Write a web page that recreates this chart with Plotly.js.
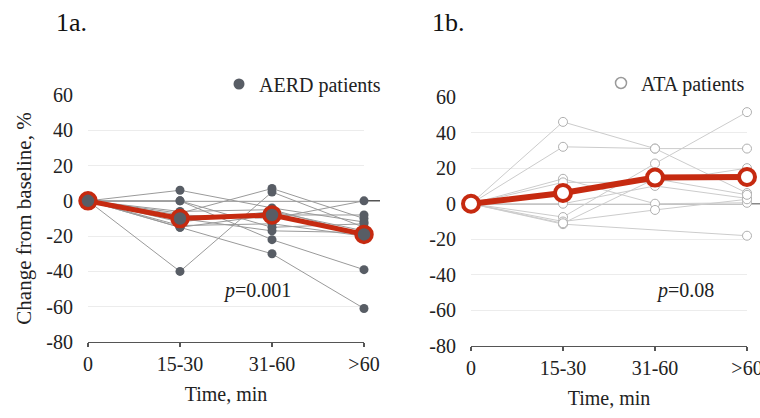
<!DOCTYPE html>
<html>
<head>
<meta charset="utf-8">
<script src="https://cdn.plot.ly/plotly-3.0.1.min.js"></script>
<style>html,body{margin:0;padding:0;background:#fff;}#chart{width:760px;height:418px;}</style>
</head>
<body>
<div id="chart"></div>
<script>
// ---- data ----
const categories = ['0', '15-30', '31-60', '>60'];
const yTickVals = [-80, -60, -40, -20, 0, 20, 40, 60];
const yTickText = ['-80', '-60', '-40', '-20', '0', '20', '40', '60'];

// AERD individual patients (change from baseline, %)
const aerdIndividual = [
  [0, 6, -4, -12],
  [0, 0, -22, -39],
  [0, -15, -30, -61],
  [0, -40, 5, -15],
  [0, -7, 7, -10],
  [0, -8, -10, 0],
  [0, -12, -6, -17],
  [0, -14, -13, -20],
  [0, -15, -8, -8],
  [0, 0, -15, -13],
  [0, -10, -17, -18],
  [0, -6, -5, -19]
];
const aerdMean = [0, -10, -8, -19];

// ATA individual patients (change from baseline, %)
const ataIndividual = [
  [0, 46, 31, 6],
  [0, 32, 31, 31],
  [0, -7.5, 22.6, 51.5],
  [0, 14, 0, 0.5],
  [0, 12, 12, 20],
  [0, 0, 10, 3],
  [0, -11.5, null, -18],
  [0, -10, -3.5, 2.5],
  [0, -11, 14, 5]
];
const ataMean = [0, 6, 14.7, 15];

const panelTitles = ['1a.', '1b.'];
const legendNames = ['AERD patients', 'ATA patients'];
const pValues = ['<i>p</i>=0.001', '<i>p</i>=0.08'];

// ---- styling ----
const FONT = 'Liberation Serif, Times New Roman, serif';
const RED = '#c62a10';
const DARK = '#585d65';

const traces = [];
aerdIndividual.forEach(v => traces.push({
  x: categories, y: v, xaxis: 'x', yaxis: 'y', type: 'scatter', mode: 'lines+markers',
  line: {color: '#9a9a9a', width: 1}, marker: {color: DARK, size: 9},
  showlegend: false, cliponaxis: false, hoverinfo: 'skip'
}));
traces.push({
  x: categories, y: aerdMean, xaxis: 'x', yaxis: 'y', type: 'scatter', mode: 'lines+markers',
  line: {color: RED, width: 5}, marker: {color: DARK, size: 16, line: {color: RED, width: 3.5}},
  showlegend: false, cliponaxis: false
});
traces.push({
  x: [null], y: [null], xaxis: 'x', yaxis: 'y', type: 'scatter', mode: 'markers',
  name: legendNames[0], marker: {color: DARK, size: 11}, legend: 'legend', showlegend: true
});

ataIndividual.forEach(v => traces.push({
  x: categories, y: v, xaxis: 'x2', yaxis: 'y2', type: 'scatter', mode: 'lines+markers',
  connectgaps: true,
  line: {color: '#cccccc', width: 1}, marker: {color: '#ffffff', size: 9, line: {color: '#b0b0b0', width: 1}},
  showlegend: false, cliponaxis: false, hoverinfo: 'skip'
}));
traces.push({
  x: categories, y: ataMean, xaxis: 'x2', yaxis: 'y2', type: 'scatter', mode: 'lines+markers',
  line: {color: RED, width: 6}, marker: {color: '#ffffff', size: 16, line: {color: RED, width: 4}},
  showlegend: false, cliponaxis: false
});
traces.push({
  x: [null], y: [null], xaxis: 'x2', yaxis: 'y2', type: 'scatter', mode: 'markers',
  name: legendNames[1], marker: {color: '#ffffff', size: 11, line: {color: '#9a9a9a', width: 1.5}},
  legend: 'legend2', showlegend: true
});

function xAx(domain, anchor) {
  return {
    domain: domain, anchor: anchor, type: 'category', range: [0, 3],
    showgrid: false, zeroline: false, showline: true, linecolor: '#555', linewidth: 1.2,
    ticks: 'outside', ticklen: 4, tickcolor: '#555', tickwidth: 1.2,
    tickfont: {family: FONT, size: 20, color: '#222'},
    title: {text: 'Time, min', font: {family: FONT, size: 20, color: '#222'}, standoff: 12},
    fixedrange: true
  };
}
function yAx(domain, anchor, title) {
  return {
    domain: domain, anchor: anchor, range: [-80, 60],
    tickmode: 'array', tickvals: yTickVals, ticktext: yTickText,
    showgrid: true, gridcolor: '#ececec', gridwidth: 1, zeroline: false, showline: false,
    ticks: '', ticklabelstandoff: 14,
    tickfont: {family: FONT, size: 20, color: '#222'},
    title: {text: title, font: {family: FONT, size: 21, color: '#222'}, standoff: 8},
    fixedrange: true
  };
}

const layout = {
  width: 760, height: 418,
  margin: {l: 0, r: 0, t: 0, b: 0},
  paper_bgcolor: '#ffffff', plot_bgcolor: '#ffffff',
  font: {family: FONT, color: '#222'},
  xaxis: xAx([88/760, 364/760], 'y'),
  yaxis: yAx([(418-342)/418, (418-95)/418], 'x', 'Change from baseline, %'),
  xaxis2: xAx([471/760, 747/760], 'y2'),
  yaxis2: yAx([(418-346)/418, (418-97)/418], 'x2', ''),
  legend: {x: 219/760, y: (418-84)/418, xanchor: 'left', yanchor: 'middle',
           font: {family: FONT, size: 20, color: '#222'}, bgcolor: 'rgba(0,0,0,0)', itemwidth: 30},
  legend2: {x: 601/760, y: (418-83)/418, xanchor: 'left', yanchor: 'middle',
           font: {family: FONT, size: 20, color: '#222'}, bgcolor: 'rgba(0,0,0,0)', itemwidth: 30},
  shapes: [
    {type: 'line', xref: 'x domain', yref: 'y', x0: 0, x1: (380-88)/276, y0: 0, y1: 0,
     line: {color: '#555', width: 1.5}, layer: 'below'},
    {type: 'line', xref: 'x2 domain', yref: 'y2', x0: 0, x1: (760-471)/276, y0: 0, y1: 0,
     line: {color: '#888', width: 1.5}, layer: 'below'}
  ],
  annotations: [
    {text: panelTitles[0], xref: 'paper', yref: 'paper', x: 54/760, y: (418-22)/418,
     xanchor: 'left', yanchor: 'middle', showarrow: false, font: {family: FONT, size: 26, color: '#111'}},
    {text: panelTitles[1], xref: 'paper', yref: 'paper', x: 430/760, y: (418-22)/418,
     xanchor: 'left', yanchor: 'middle', showarrow: false, font: {family: FONT, size: 26, color: '#111'}},
    {text: pValues[0], xref: 'paper', yref: 'paper', x: 257/760, y: (418-290)/418,
     xanchor: 'center', yanchor: 'middle', showarrow: false, font: {family: FONT, size: 20, color: '#222'}},
    {text: pValues[1], xref: 'paper', yref: 'paper', x: 685/760, y: (418-290)/418,
     xanchor: 'center', yanchor: 'middle', showarrow: false, font: {family: FONT, size: 20, color: '#222'}}
  ]
};

Plotly.newPlot('chart', traces, layout, {staticPlot: true, displayModeBar: false});
</script>
</body>
</html>
